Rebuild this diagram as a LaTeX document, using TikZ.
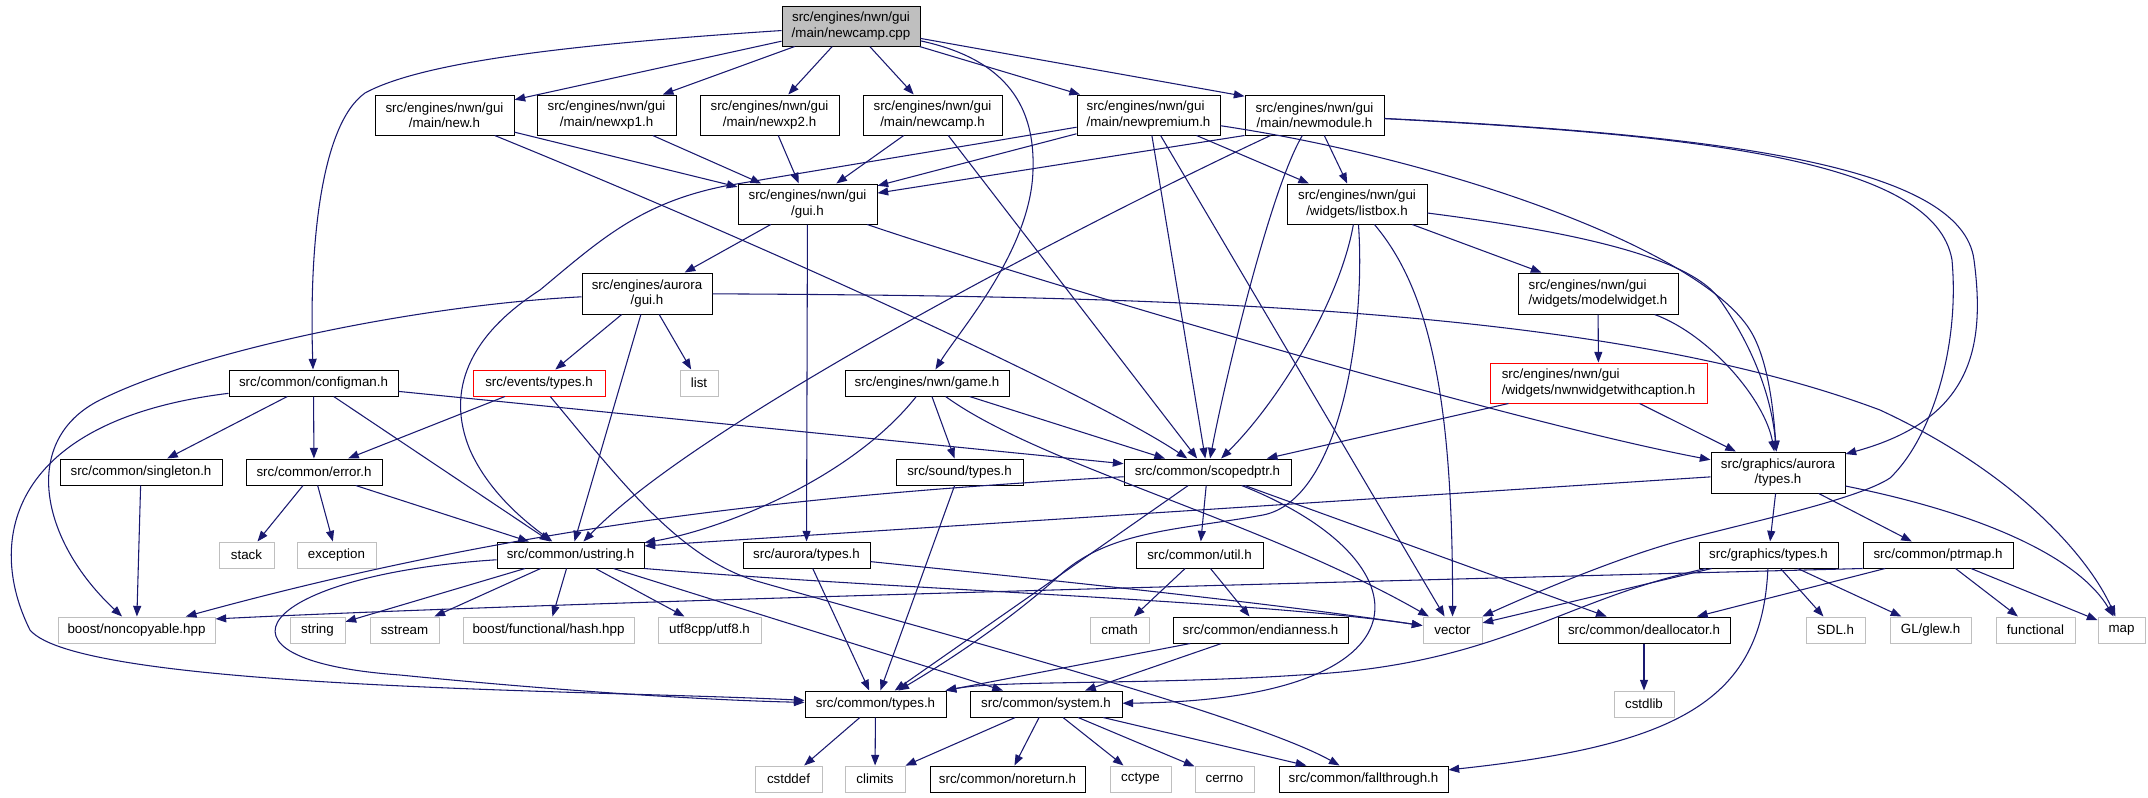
\documentclass[tikz,border=0pt]{standalone}
\usepackage{fontspec}
\setmainfont{Liberation Sans}
\usetikzlibrary{arrows.meta}
\definecolor{edgeColor}{RGB}{25,25,112}
\definecolor{sysColor}{RGB}{191,191,191}
\definecolor{truncColor}{RGB}{255,0,0}
\tikzset{
  file/.style={draw=black,fill=white,line width=0.75pt,inner sep=0pt,align=center,font=\fontsize{10}{11.5}\selectfont},
  sys/.style={file,draw=sysColor},
  trunc/.style={file,draw=truncColor},
  root/.style={file,fill=sysColor},
  sz/.style 2 args={minimum width=#1*0.75pt,minimum height=#2*0.75pt},
  dep/.style={draw=edgeColor,line width=0.8pt,->,>={Triangle[length=8pt,width=6pt]}}
}

\begin{document}
\begin{tikzpicture}[x=0.75pt,y=-0.75pt]
\useasboundingbox (0,0) rectangle (2148,797);
\node[root,sz={138}{40}] (cpp) at (851,26) {src/engines/nwn/gui\\/main/newcamp.cpp};
\node[file,sz={139}{40}] (newh) at (444.5,115) {src/engines/nwn/gui\\/main/new.h};
\node[file,sz={139}{40}] (xpone) at (606.5,115) {src/engines/nwn/gui\\/main/newxp1.h};
\node[file,sz={139}{40}] (xptwo) at (769.5,115) {src/engines/nwn/gui\\/main/newxp2.h};
\node[file,sz={139}{40}] (camph) at (932.5,115) {src/engines/nwn/gui\\/main/newcamp.h};
\node[file,sz={143}{40},align=left] (premium) at (1148.5,115) {src/engines/nwn/gui\\/main/newpremium.h};
\node[file,sz={139}{40}] (module) at (1314.5,115) {src/engines/nwn/gui\\/main/newmodule.h};
\node[file,sz={139}{40}] (nwngui) at (807.5,204) {src/engines/nwn/gui\\/gui.h};
\node[file,sz={140}{40}] (listbox) at (1357,204) {src/engines/nwn/gui\\/widgets/listbox.h};
\node[file,sz={130}{41}] (auroragui) at (647,293.5) {src/engines/aurora\\/gui.h};
\node[file,sz={160}{41},align=left] (model) at (1598,293.5) {src/engines/nwn/gui\\/widgets/modelwidget.h};
\node[file,sz={169}{26}] (configman) at (313.5,383) {src/common/configman.h};
\node[trunc,sz={132}{26}] (events) at (539,383) {src/events/types.h};
\node[sys,sz={38}{26}] (list) at (699,383) {list};
\node[file,sz={164}{26}] (game) at (927,383) {src/engines/nwn/game.h};
\node[trunc,sz={217}{40},align=left] (caption) at (1598.5,383) {src/engines/nwn/gui\\/widgets/nwnwidgetwithcaption.h};
\node[file,sz={162}{26}] (singleton) at (141,472) {src/common/singleton.h};
\node[file,sz={136}{26}] (error) at (314,472) {src/common/error.h};
\node[file,sz={127}{26}] (sound) at (959.5,472) {src/sound/types.h};
\node[file,sz={167}{26}] (scoped) at (1207.5,472) {src/common/scopedptr.h};
\node[file,sz={134}{41}] (gatypes) at (1778,472.5) {src/graphics/aurora\\/types.h};
\node[sys,sz={55}{26}] (stack) at (246.5,555) {stack};
\node[sys,sz={79}{26}] (exception) at (336.5,555) {exception};
\node[file,sz={147}{26}] (ustring) at (570.5,555) {src/common/ustring.h};
\node[file,sz={127}{26}] (atypes) at (806.5,555) {src/aurora/types.h};
\node[file,sz={127}{26}] (util) at (1199.5,555) {src/common/util.h};
\node[file,sz={139}{26}] (gtypes) at (1768.5,555) {src/graphics/types.h};
\node[file,sz={150}{26}] (ptrmap) at (1938,555) {src/common/ptrmap.h};
\node[sys,sz={157}{26}] (noncopy) at (136.5,630) {boost/noncopyable.hpp};
\node[sys,sz={55}{26}] (string) at (317.5,630) {string};
\node[sys,sz={69}{26}] (sstream) at (404.5,630) {sstream};
\node[sys,sz={171}{26}] (hash) at (548.5,630) {boost/functional/hash.hpp};
\node[sys,sz={103}{26}] (utf) at (709.5,630) {utf8cpp/utf8.h};
\node[sys,sz={59}{26}] (cmath) at (1119.5,630) {cmath};
\node[file,sz={175}{26}] (endian) at (1260.5,630) {src/common/endianness.h};
\node[sys,sz={59}{26}] (vector) at (1452.5,630) {vector};
\node[file,sz={172}{26}] (dealloc) at (1644,630) {src/common/deallocator.h};
\node[sys,sz={59}{26}] (sdl) at (1835.5,630) {SDL.h};
\node[sys,sz={81}{26}] (glew) at (1930.5,630) {GL/glew.h};
\node[sys,sz={79}{26}] (functional) at (2035.5,630) {functional};
\node[sys,sz={47}{26}] (map) at (2121.5,630) {map};
\node[file,sz={141}{26}] (ctypes) at (875.5,704) {src/common/types.h};
\node[file,sz={152}{26}] (system) at (1046,704) {src/common/system.h};
\node[sys,sz={60}{26}] (cstdlib) at (1644,704) {cstdlib};
\node[sys,sz={67}{26}] (cstddef) at (788.5,779) {cstddef};
\node[sys,sz={60}{26}] (climits) at (875,779) {climits};
\node[file,sz={155}{26}] (noreturn) at (1007.5,779) {src/common/noreturn.h};
\node[sys,sz={61}{26}] (cctype) at (1140.5,779) {cctype};
\node[sys,sz={59}{26}] (cerrno) at (1224.5,779) {cerrno};
\node[file,sz={169}{26}] (fallthrough) at (1363.5,779) {src/common/fallthrough.h};
\draw[dep] (cpp) .. controls (560,45) and (420,63) .. (365,93) .. controls (320,125) and (309,250) .. (configman);
\draw[dep] (cpp) -- (newh);
\draw[dep] (cpp) -- (xpone);
\draw[dep] (cpp) -- (xptwo);
\draw[dep] (cpp) -- (camph);
\draw[dep] (cpp) -- (premium);
\draw[dep] (cpp) -- (module.165);
\draw[dep] (cpp) .. controls (1010,60) and (1035,110) .. (1033,170) .. controls (1031,250) and (960,330) .. (game);
\draw[dep] (newh) -- (nwngui);
\draw[dep] (newh) .. controls (800,260) and (1100,400) .. (scoped);
\draw[dep] (xpone) -- (nwngui);
\draw[dep] (xptwo) -- (nwngui);
\draw[dep] (camph) -- (nwngui);
\draw[dep] (camph) -- (scoped);
\draw[dep] (premium) -- (nwngui);
\draw[dep] (premium) .. controls (960,147) and (830,168) .. (725,186) .. controls (640,203) and (600,240) .. (540,290) .. controls (470,335) and (445,390) .. (470,450) .. controls (490,495) and (530,525) .. (ustring);
\draw[dep] (premium) -- (listbox);
\draw[dep] (premium) -- (scoped);
\draw[dep] (premium) -- (vector);
\draw[dep] (premium) .. controls (1450,160) and (1700,250) .. (1750,330) .. controls (1770,362) and (1774,420) .. (gatypes);
\draw[dep] (module.south west) -- (nwngui);
\draw[dep] (module) .. controls (1100,215) and (700,420) .. (ustring);
\draw[dep] (module) .. controls (1270,190) and (1225,380) .. (scoped);
\draw[dep] (module) -- (listbox);
\draw[dep] (module) .. controls (1700,135) and (1935,160) .. (1952,260) .. controls (1960,350) and (1930,440) .. (1890,478) .. controls (1860,498) and (1760,520) .. (1690,538) .. controls (1620,556) and (1530,595) .. (vector);
\draw[dep] (module) .. controls (1720,135) and (1962,165) .. (1974,260) .. controls (1986,350) and (1970,420) .. (gatypes);
\draw[dep] (nwngui) -- (auroragui);
\draw[dep] (nwngui) -- (atypes);
\draw[dep] (nwngui) .. controls (1000,270) and (1500,420) .. (gatypes);
\draw[dep] (listbox) -- (model);
\draw[dep] (listbox) .. controls (1560,230) and (1690,255) .. (1720,300) .. controls (1755,350) and (1772,400) .. (gatypes);
\draw[dep] (listbox) .. controls (1340,300) and (1280,400) .. (scoped);
\draw[dep] (listbox) .. controls (1430,290) and (1453,400) .. (vector);
\draw[dep] (listbox) .. controls (1366,330) and (1340,500) .. (1263,515) .. controls (1180,530) and (1110,530) .. (1060,575) .. controls (1010,620) and (950,660) .. (ctypes);
\draw[dep] (auroragui) -- (events);
\draw[dep] (auroragui) -- (ustring);
\draw[dep] (auroragui) -- (list);
\draw[dep] (auroragui) .. controls (420,305) and (200,350) .. (100,400) .. controls (20,440) and (40,540) .. (noncopy);
\draw[dep] (auroragui) .. controls (1150,296) and (1600,305) .. (1880,410) .. controls (2020,475) and (2090,560) .. (map);
\draw[dep] (model) -- (caption);
\draw[dep] (model) .. controls (1710,335) and (1765,400) .. (gatypes);
\draw[dep] (configman) -- (singleton);
\draw[dep] (configman) -- (error);
\draw[dep] (configman) -- (ustring);
\draw[dep] (configman) -- (scoped);
\draw[dep] (configman) .. controls (10,420) and (-15,540) .. (30,630) .. controls (80,690) and (600,690) .. (ctypes);
\draw[dep] (events) -- (error);
\draw[dep] (events) .. controls (620,480) and (680,560) .. (760,582) .. controls (900,622) and (1250,715) .. (fallthrough);
\draw[dep] (game) .. controls (850,480) and (720,530) .. (ustring);
\draw[dep] (game) -- (sound);
\draw[dep] (game) -- (scoped);
\draw[dep] (game) .. controls (1040,465) and (1260,520) .. (vector);
\draw[dep] (caption) -- (scoped);
\draw[dep] (caption) -- (gatypes);
\draw[dep] (singleton) -- (noncopy);
\draw[dep] (error) -- (stack);
\draw[dep] (error) -- (exception);
\draw[dep] (error) -- (ustring);
\draw[dep] (sound) -- (ctypes);
\draw[dep] (scoped) .. controls (800,495) and (520,525) .. (noncopy);
\draw[dep] (scoped) -- (ctypes);
\draw[dep] (scoped) -- (util);
\draw[dep] (scoped) .. controls (1430,560) and (1440,700) .. (system);
\draw[dep] (scoped) -- (dealloc);
\draw[dep] (gatypes) -- (ustring.7);
\draw[dep] (gatypes) -- (gtypes);
\draw[dep] (gatypes) -- (ptrmap);
\draw[dep] (gatypes) .. controls (1990,515) and (2080,560) .. (map);
\draw[dep] (ustring) -- (string);
\draw[dep] (ustring) -- (sstream);
\draw[dep] (ustring) -- (hash);
\draw[dep] (ustring) -- (utf);
\draw[dep] (ustring) .. controls (260,575) and (190,660) .. (400,675) .. controls (550,690) and (700,700) .. (ctypes);
\draw[dep] (ustring) -- (system);
\draw[dep] (ustring.south east) .. controls (900,590) and (1250,600) .. (vector);
\draw[dep] (atypes) -- (ctypes);
\draw[dep] (atypes) .. controls (1000,575) and (1250,600) .. (vector);
\draw[dep] (util) -- (cmath);
\draw[dep] (util) -- (endian);
\draw[dep] (gtypes) -- (vector);
\draw[dep] (gtypes) .. controls (1560,600) and (1500,665) .. (1300,675) .. controls (1150,685) and (1000,680) .. (ctypes);
\draw[dep] (gtypes) .. controls (1762,700) and (1680,745) .. (fallthrough);
\draw[dep] (gtypes) -- (sdl);
\draw[dep] (gtypes) -- (glew);
\draw[dep] (ptrmap.south west) .. controls (1500,578) and (600,600) .. (noncopy.8);
\draw[dep] (ptrmap) -- (dealloc);
\draw[dep] (ptrmap) -- (functional);
\draw[dep] (ptrmap) -- (map);
\draw[dep] (endian) -- (ctypes);
\draw[dep] (endian) -- (system);
\draw[dep] (dealloc) -- (cstdlib);
\draw[dep] (ctypes) -- (cstddef);
\draw[dep] (ctypes) -- (climits);
\draw[dep] (system) -- (climits);
\draw[dep] (system) -- (noreturn);
\draw[dep] (system) -- (cctype);
\draw[dep] (system) -- (cerrno);
\draw[dep] (system) -- (fallthrough);
\end{tikzpicture}
\end{document}
